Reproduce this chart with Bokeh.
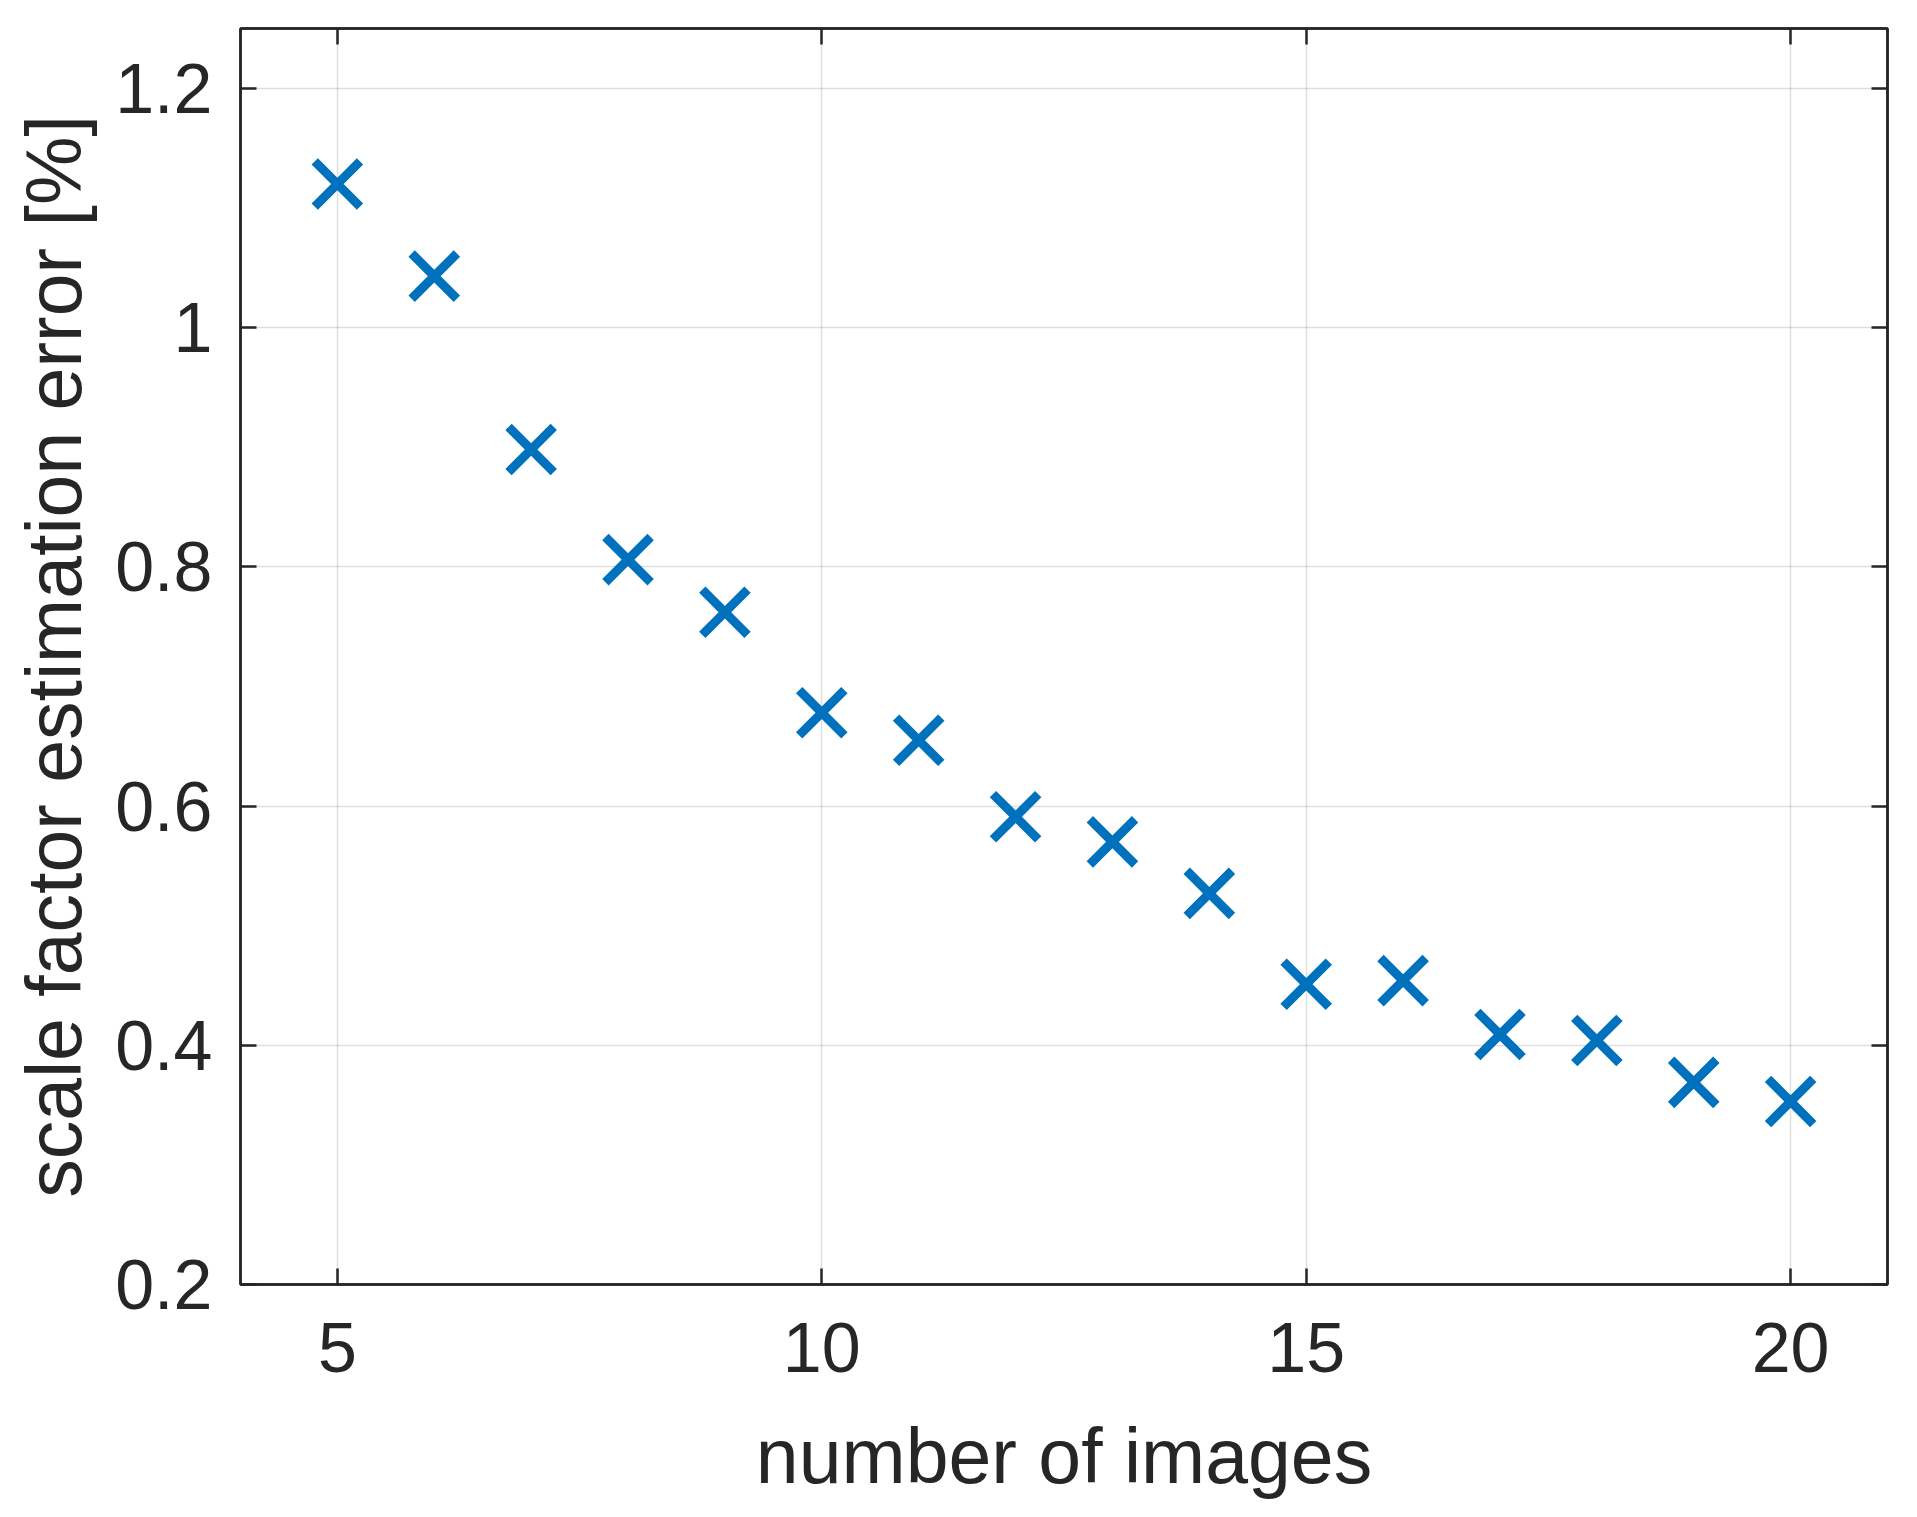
from bokeh.plotting import figure
from bokeh.models import LinearAxis, FixedTicker, Range1d
from bokeh.embed import file_html
from bokeh.resources import INLINE

# data
num_images = [5, 6, 7, 8, 9, 10, 11, 12, 13, 14, 15, 16, 17, 18, 19, 20]
scale_error = [1.120, 1.043, 0.898, 0.806, 0.762, 0.678, 0.655, 0.591,
               0.570, 0.527, 0.451, 0.454, 0.409, 0.404, 0.369, 0.353]
x_ticks = [5, 10, 15, 20]
y_ticks = [0.2, 0.4, 0.6, 0.8, 1.0, 1.2]
y_tick_labels = {0.2: "0.2", 0.4: "0.4", 0.6: "0.6", 0.8: "0.8", 1.0: "1", 1.2: "1.2"}

TXT = "#262626"
FONT = "Liberation Sans"

p = figure(width=1901, height=1501, output_backend="svg", toolbar_location=None,
           x_range=Range1d(4, 21), y_range=Range1d(0.2, 1.25),
           min_border_left=240, min_border_right=14, min_border_top=28,
           min_border_bottom=215)

p.scatter(num_images, scale_error, marker="x", size=64, line_width=9,
          line_color="#0072BD")

p.outline_line_color = TXT
p.outline_line_width = 2.5

for ax in p.xaxis + p.yaxis:
    ax.axis_line_color = TXT
    ax.axis_line_width = 2.5
    ax.major_tick_line_color = TXT
    ax.major_tick_line_width = 2.5
    ax.major_tick_in = 16
    ax.major_tick_out = 0
    ax.minor_tick_line_color = None
    ax.major_label_text_font = FONT
    ax.major_label_text_font_size = "70px"
    ax.major_label_text_color = TXT
    ax.axis_label_text_font = FONT
    ax.axis_label_text_font_size = "77px"
    ax.axis_label_text_color = TXT
    ax.axis_label_text_font_style = "normal"

p.xaxis.ticker = FixedTicker(ticks=x_ticks)
p.yaxis.ticker = FixedTicker(ticks=y_ticks)
p.yaxis.major_label_overrides = y_tick_labels
p.xaxis.axis_label = "number of images"
p.yaxis.axis_label = "scale factor estimation error [%]"
p.xaxis.major_label_standoff = 38
p.xaxis.axis_label_standoff = 38
p.yaxis.major_label_standoff = 28
p.yaxis.axis_label_standoff = 15

# box: ticks on top and right
top = LinearAxis(ticker=FixedTicker(ticks=x_ticks))
right = LinearAxis(ticker=FixedTicker(ticks=y_ticks))
for ax in (top, right):
    ax.axis_line_color = TXT
    ax.axis_line_width = 2.5
    ax.major_tick_line_color = TXT
    ax.major_tick_line_width = 2.5
    ax.major_tick_in = 16
    ax.major_tick_out = 0
    ax.minor_tick_line_color = None
    ax.major_label_text_font_size = "0px"
    ax.major_label_standoff = 0
p.add_layout(top, "above")
p.add_layout(right, "right")

p.xgrid.ticker = FixedTicker(ticks=x_ticks)
p.ygrid.ticker = FixedTicker(ticks=y_ticks)
p.grid.grid_line_color = TXT
p.grid.grid_line_alpha = 0.15
p.grid.grid_line_width = 1.5

open("out.html", "w").write(file_html(p, INLINE))
